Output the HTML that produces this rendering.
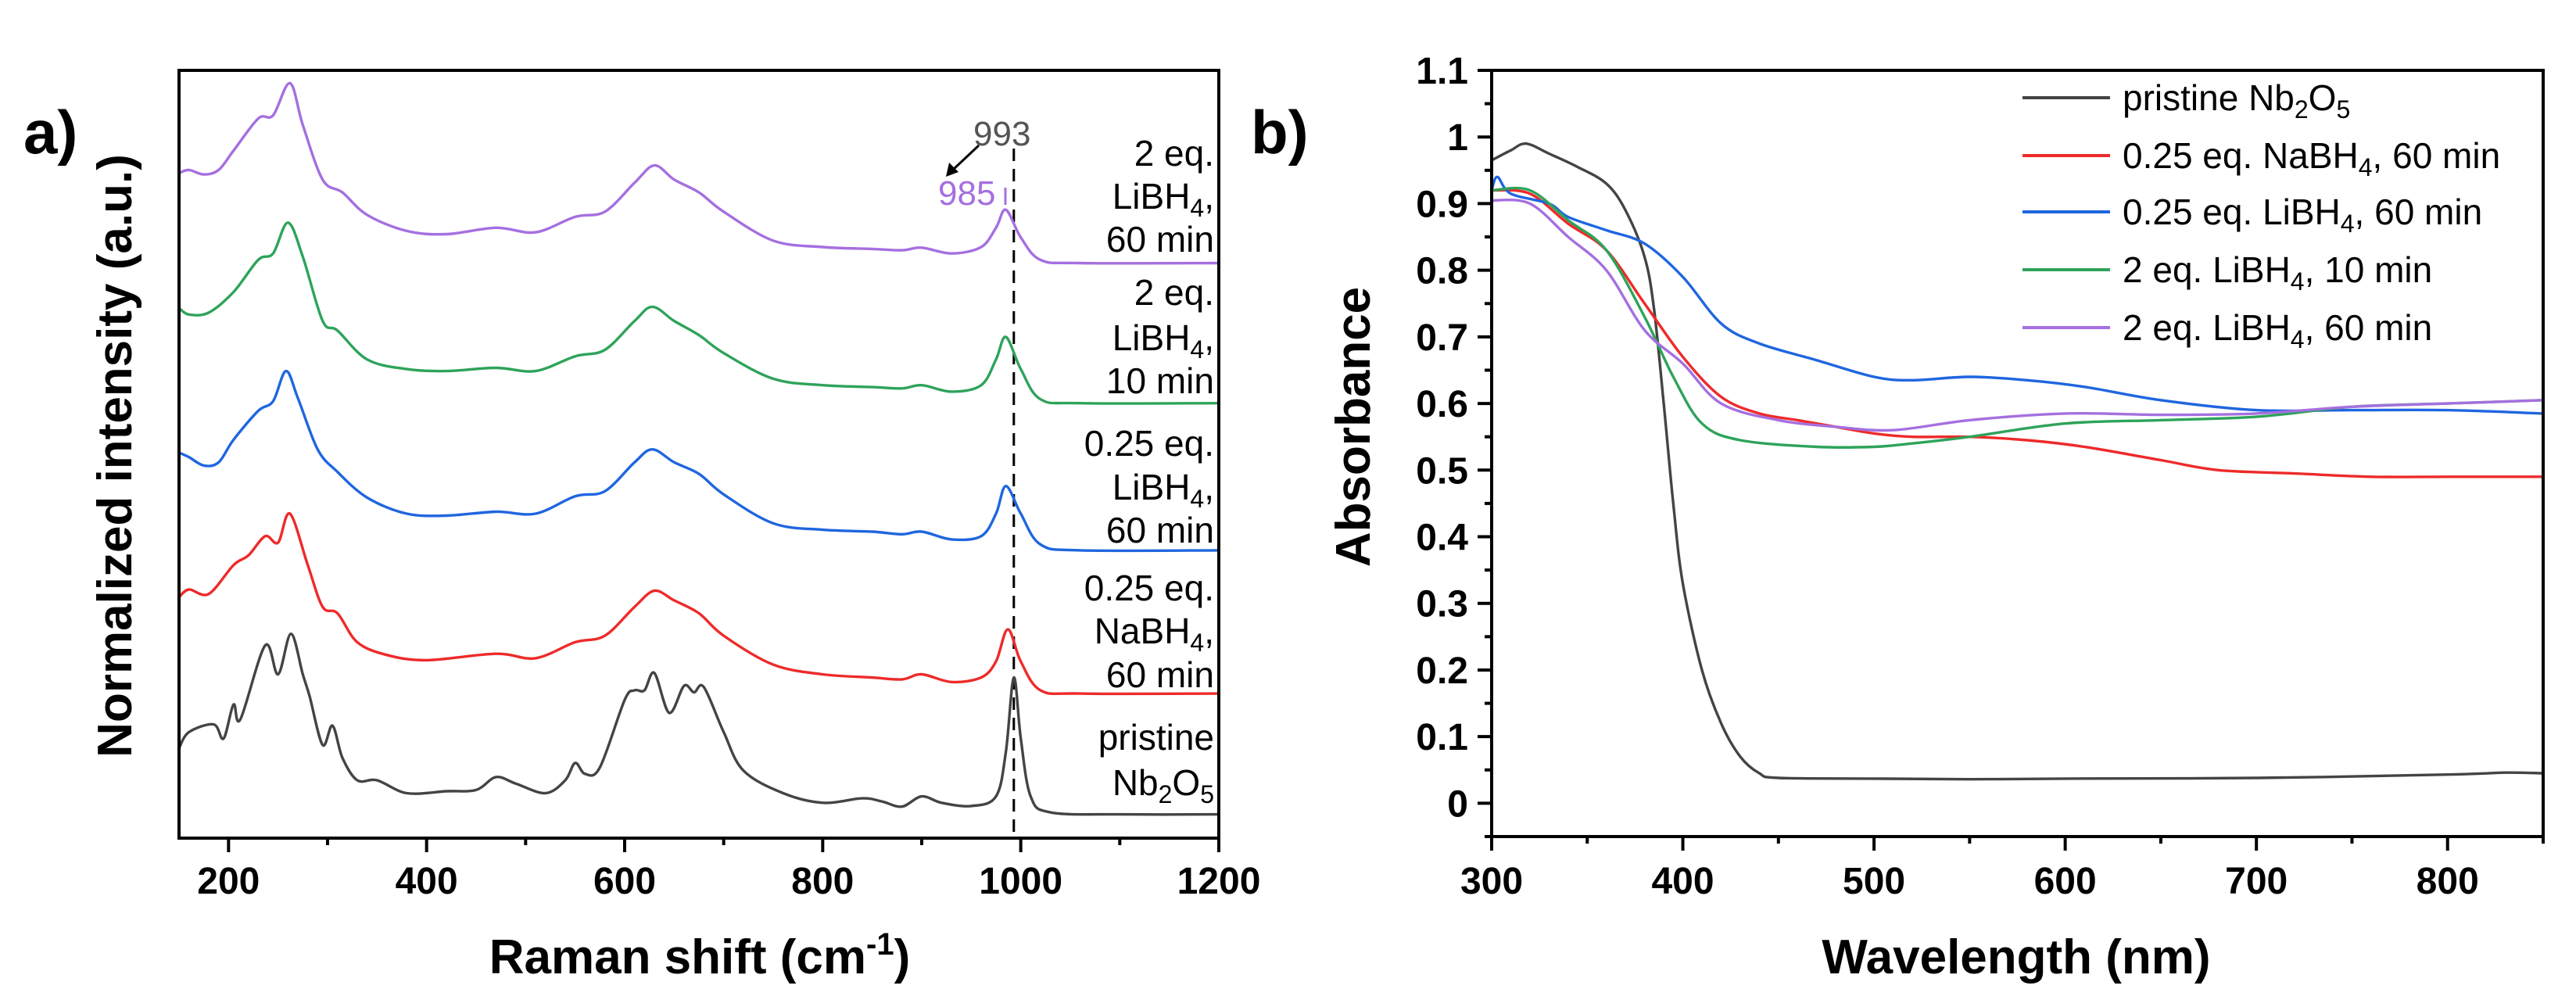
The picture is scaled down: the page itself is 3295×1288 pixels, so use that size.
<!DOCTYPE html>
<html><head><meta charset="utf-8"><style>
html,body{margin:0;padding:0;background:#fff;}
svg{display:block;font-family:"Liberation Sans",Arial,sans-serif;}
</style></head><body>
<svg id="fig" width="3295" height="1288" viewBox="0 0 3295 1288" xmlns="http://www.w3.org/2000/svg">
<rect width="3295" height="1288" fill="#fff"/>
<g id="pa"></g>
<g id="pb"></g>
</svg>
<script>
// ---- Panel a data (Raman) ----
const ramanPristineX = [150,160,185,195,205,212,237,250,263,275,282,295,305,315,330,350,380,420,450,470,490,520,540,550,560,575,600,610,620,630,645,660,670,680,700,720,760,800,840,860,880,900,920,950,975,985,993,1000,1010,1030,1100,1200];
const ramanPristineY = [140,165,177,155,208,185,300,255,318,255,220,145,175,125,90,90,70,73,75,95,85,70,90,117,100,110,215,230,230,257,195,237,227,235,165,105,70,55,62,57,49,65,55,50,65,135,250,155,65,40,37,37];
const ramanNaX = [150,160,180,205,220,237,250,262,280,295,310,330,360,400,470,510,550,580,610,630,650,675,700,750,800,850,880,900,930,960,975,987,1000,1020,1060,1200];
const ramanNaY = [375,387,380,425,440,470,460,505,425,360,350,305,285,277,287,280,305,315,360,385,370,350,315,270,255,250,247,255,243,250,275,325,275,230,225,225];
const ramanLi025X = [150,160,175,190,205,230,245,258,270,290,310,340,380,420,470,510,550,580,610,628,650,675,700,750,800,850,880,900,930,960,975,985,1000,1020,1060,1200];
const ramanLi025Y = [600,593,580,585,620,665,680,727,685,605,570,530,505,502,508,505,532,540,585,605,585,567,535,490,480,477,473,477,465,470,505,548,505,457,448,448];
const ramanLi10X = [150,160,180,205,230,245,260,275,295,310,340,380,420,470,510,550,580,610,628,650,675,700,750,800,850,880,900,930,960,975,985,1000,1020,1060,1200];
const ramanLi10Y = [825,815,818,850,900,910,958,905,805,790,745,730,727,732,727,750,760,805,827,805,783,755,715,705,702,700,705,695,705,745,780,730,683,677,677];
const ramanLi60X = [150,160,175,190,205,230,245,262,275,295,315,340,380,420,470,510,550,580,610,630,650,675,700,750,800,850,880,900,930,960,975,985,1000,1020,1060,1200];
const ramanLi60Y = [1035,1040,1033,1040,1070,1120,1125,1175,1110,1025,1005,970,945,940,950,943,967,975,1020,1047,1025,1005,975,930,920,917,915,919,910,920,950,978,935,900,895,895];
const ramanTicks = [200,400,600,800,1000,1200];
const ramanMarker = 993;

// ---- Panel b data (Absorbance) ----
const absPristineX = [300,310,318,330,345,360,370,380,385,390,395,400,410,420,430,440,450,500,550,600,700,800,830,850];
const absPristineY = [0.965,0.98,0.99,0.975,0.955,0.93,0.89,0.82,0.74,0.6,0.45,0.33,0.2,0.12,0.07,0.045,0.038,0.037,0.036,0.037,0.038,0.043,0.046,0.045];
const absNaX = [300,320,340,360,380,400,420,440,460,480,500,520,550,580,610,650,680,720,760,800,850];
const absNaY = [0.92,0.915,0.87,0.83,0.75,0.67,0.61,0.585,0.575,0.565,0.555,0.55,0.55,0.545,0.535,0.515,0.5,0.495,0.49,0.49,0.49];
const absLi025X = [300,303,310,330,340,360,380,400,420,440,470,500,520,550,580,610,650,700,750,800,850];
const absLi025Y = [0.92,0.94,0.915,0.9,0.88,0.86,0.84,0.79,0.72,0.69,0.665,0.64,0.635,0.64,0.635,0.625,0.605,0.59,0.59,0.59,0.585];
const absLi10X = [300,320,340,360,380,395,410,430,470,500,520,550,600,650,700,750,800,850];
const absLi10Y = [0.92,0.92,0.875,0.83,0.73,0.64,0.57,0.545,0.535,0.535,0.54,0.55,0.57,0.575,0.58,0.595,0.6,0.605];
const absLi60X = [300,320,340,360,380,400,420,450,480,510,550,600,650,700,750,800,850];
const absLi60Y = [0.905,0.9,0.85,0.8,0.71,0.66,0.6,0.575,0.565,0.56,0.575,0.585,0.583,0.585,0.595,0.6,0.605];
const absXTicks = [300,400,500,600,700,800];
const absYTicks = [0,0.1,0.2,0.3,0.4,0.5,0.6,0.7,0.8,0.9,1,1.1];

const NS="http://www.w3.org/2000/svg";
function mk(parent,tag,attrs,text){const e=document.createElementNS(NS,tag);for(const k in attrs)e.setAttribute(k,attrs[k]);if(text!==undefined)e.textContent=text;parent.appendChild(e);return e;}
function smooth(pts){let d="M"+pts[0][0].toFixed(1)+","+pts[0][1].toFixed(1);for(let i=0;i<pts.length-1;i++){const p0=pts[i-1]||pts[i],p1=pts[i],p2=pts[i+1],p3=pts[i+2]||p2;const c1x=p1[0]+(p2[0]-p0[0])/6,c1y=p1[1]+(p2[1]-p0[1])/6,c2x=p2[0]-(p3[0]-p1[0])/6,c2y=p2[1]-(p3[1]-p1[1])/6;d+="C"+c1x.toFixed(1)+","+c1y.toFixed(1)+" "+c2x.toFixed(1)+","+c2y.toFixed(1)+" "+p2[0].toFixed(1)+","+p2[1].toFixed(1);}return d;}
function subHtml(ln){const parts=ln.split('|');let h='';let down=false;parts.forEach((p,i)=>{if(p==='')return;if(i%2){h+='<tspan dy="10" font-size="32">'+p+'</tspan>';down=true;}else{h+='<tspan'+(down?' dy="-10"':'')+'>'+p+'</tspan>';down=false;}});return h;}

// ---- Panel a ----
const pa=document.getElementById('pa');
const aL=229,aR=1559,aT=90,aB=1072;
const ax=v=>aL+(v-150)/(1200-150)*(aR-aL);
const ay=v=>aB-(v/1195)*(aB-aT);
const aSeries=[[ramanPristineX,ramanPristineY,'#444444','raman-pristine'],[ramanNaX,ramanNaY,'#ee2a2a','raman-naBH4-025'],[ramanLi025X,ramanLi025Y,'#1f66df','raman-liBH4-025'],[ramanLi10X,ramanLi10Y,'#2ea35a','raman-liBH4-2eq-10min'],[ramanLi60X,ramanLi60Y,'#a56fe0','raman-liBH4-2eq-60min']];
const dl=mk(pa,'line',{x1:ax(ramanMarker),x2:ax(ramanMarker),y1:190,y2:aB,stroke:'#000','stroke-width':3,'stroke-dasharray':'16,10'});


aSeries.forEach(s=>{const pts=s[0].map((x,i)=>[ax(x),ay(s[1][i])]);const p=mk(pa,'path',{d:smooth(pts),fill:'none',stroke:s[2],'stroke-width':3.4,'stroke-linejoin':'round'});

});
mk(pa,'rect',{x:aL,y:aT,width:aR-aL,height:aB-aT,fill:'none',stroke:'#000','stroke-width':4,});
for(let v=200;v<=1200;v+=100){const maj=v%200===0;const t=mk(pa,'line',{x1:ax(v),x2:ax(v),y1:aB,y2:aB+(maj?18:9),stroke:'#000','stroke-width':4});

}
ramanTicks.forEach(v=>{const t=mk(pa,'text',{x:ax(v),y:1143,'font-size':48,'font-weight':'bold','text-anchor':'middle'},String(v));

});
const axt=mk(pa,'text',{x:895,y:1245,'font-size':62,'font-weight':'bold','text-anchor':'middle'});axt.innerHTML='Raman shift (cm<tspan dy="-24" font-size="40">-1</tspan><tspan dy="24">)</tspan>';


const ayt=mk(pa,'text',{x:0,y:0,'font-size':62,'font-weight':'bold','text-anchor':'middle',transform:'translate(168,583) rotate(-90)'},'Normalized intensity (a.u.)');


mk(pa,'text',{x:30,y:196,'font-size':78,'font-weight':'bold',},'a)');
mk(pa,'text',{x:1245,y:186,'font-size':44,fill:'#555',},'993');
mk(pa,'text',{x:1200,y:262,'font-size':44,fill:'#a56fe0',},'985');
mk(pa,'line',{x1:1286,x2:1286,y1:240,y2:262,stroke:'#a56fe0','stroke-width':3,});
mk(pa,'line',{x1:1252,y1:186,x2:1218,y2:218,stroke:'#000','stroke-width':3,});
mk(pa,'path',{d:'M1210,226 L1214,208 L1226,220 Z',fill:'#000',});
const labels=[[['2 eq.','LiBH|4|,','60 min'],[212,267,322]],[['2 eq.','LiBH|4|,','10 min'],[390,448,503]],[['0.25 eq.','LiBH|4|,','60 min'],[583,639,694]],[['0.25 eq.','NaBH|4|,','60 min'],[768,823,879]],[['pristine','Nb|2|O|5|'],[959,1017]]];
labels.forEach(g=>{g[0].forEach((ln,li)=>{const t=mk(pa,'text',{x:1553,y:g[1][li],'font-size':46,'text-anchor':'end'});
t.innerHTML=subHtml(ln);

});});

// ---- Panel b ----
const pb=document.getElementById('pb');
const bL=1908,bR=3253,bT=90,bB=1070;
const bx=v=>bL+(v-300)/(850-300)*(bR-bL);
const by=v=>bB-(v+0.05)/(1.15)*(bB-bT);
const bSeries=[[absPristineX,absPristineY,'#444444','abs-pristine'],[absNaX,absNaY,'#ee2a2a','abs-naBH4-025'],[absLi025X,absLi025Y,'#1f66df','abs-liBH4-025'],[absLi10X,absLi10Y,'#2ea35a','abs-liBH4-2eq-10min'],[absLi60X,absLi60Y,'#a56fe0','abs-liBH4-2eq-60min']];
bSeries.forEach(s=>{const pts=s[0].map((x,i)=>[bx(x),by(s[1][i])]);const p=mk(pb,'path',{d:smooth(pts),fill:'none',stroke:s[2],'stroke-width':3.4,'stroke-linejoin':'round'});

});
mk(pb,'rect',{x:bL,y:bT,width:bR-bL,height:bB-bT,fill:'none',stroke:'#000','stroke-width':4,});
for(let v=300;v<=850;v+=50){const maj=v%100===0;const t=mk(pb,'line',{x1:bx(v),x2:bx(v),y1:bB,y2:bB+(maj?18:9),stroke:'#000','stroke-width':4});

}
absXTicks.forEach(v=>{const t=mk(pb,'text',{x:bx(v),y:1143,'font-size':48,'font-weight':'bold','text-anchor':'middle'},String(v));

});
for(let k=-1;k<=22;k++){const v=k*0.05;const maj=k%2===0;const t=mk(pb,'line',{x1:bL,x2:bL-(maj?18:9),y1:by(v),y2:by(v),stroke:'#000','stroke-width':4});

}
absYTicks.forEach(v=>{const t=mk(pb,'text',{x:1878,y:by(v)+17,'font-size':48,'font-weight':'bold','text-anchor':'end'},String(v));

});
mk(pb,'text',{x:2579,y:1245,'font-size':62,'font-weight':'bold','text-anchor':'middle',},'Wavelength (nm)');
mk(pb,'text',{x:0,y:0,'font-size':62,'font-weight':'bold','text-anchor':'middle',transform:'translate(1752,546) rotate(-90)',},'Absorbance');
mk(pb,'text',{x:1600,y:196,'font-size':78,'font-weight':'bold',},'b)');
const legTexts=['pristine Nb|2|O|5|','0.25 eq. NaBH|4|, 60 min','0.25 eq. LiBH|4|, 60 min','2 eq. LiBH|4|, 10 min','2 eq. LiBH|4|, 60 min'];
const legY=[125,199,271,345,419];
legTexts.forEach((lt,i)=>{const g=mk(pb,'g',{});


mk(g,'line',{x1:2587,x2:2699,y1:legY[i],y2:legY[i],stroke:bSeries[i][2],'stroke-width':4});
const t=mk(g,'text',{x:2715,y:legY[i]+16,'font-size':46});t.innerHTML=subHtml(lt);});
</script>
</body></html>
